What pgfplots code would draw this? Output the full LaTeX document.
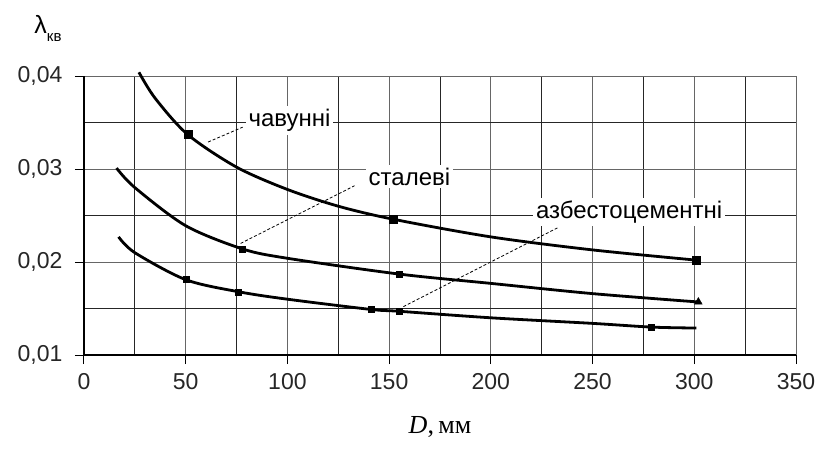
\documentclass[border=0pt]{standalone}
\usepackage{fontspec}
\setmainfont{Liberation Sans}
\newfontfamily\serif{Liberation Serif}
\usepackage{pgfplots}
\pgfplotsset{compat=1.18}

\begin{document}
\begin{tikzpicture}
\begin{axis}[
    scale only axis, width=712pt, height=279pt,
    xmin=0, xmax=350, ymin=0.01, ymax=0.04,
    xtick={0,50,...,350}, ytick={0.01,0.02,0.03,0.04},
    minor xtick={25,75,...,325}, minor ytick={0.015,0.025,0.035},
    scaled y ticks=false,
    grid=both,
    major grid style={black!60, line width=0.8pt},
    minor grid style={black!85, line width=0.8pt},
    axis lines*=left,
    axis line style={black, line width=1.4pt},
    tick align=outside, major tick length=9pt, minor tick length=0pt,
    tick style={black, line width=1pt},
    ticklabel style={font=\fontsize{23}{27}\selectfont, text=black!85},
    /pgf/number format/assume math mode=true,
    yticklabel style={/pgf/number format/fixed, /pgf/number format/fixed zerofill,
        /pgf/number format/precision=2, /pgf/number format/use comma},
    xticklabel style={yshift=-6pt},
    yticklabel style={xshift=-9pt},
    xlabel={{\serif\itshape D}{\serif ,\,мм}},
    xlabel style={font=\fontsize{26}{30}\selectfont, yshift=-20pt},
    clip=false,
]
% чавунні
\addplot[black, line width=2.8pt, smooth] coordinates {
    (27,0.0404) (35,0.0376) (51,0.0337) (75,0.0302) (100,0.0278) (125,0.0260)
    (152,0.0246) (200,0.0227) (250,0.0213) (301,0.0202)};
\addplot[only marks, mark=square*, mark size=4pt, black] coordinates {
    (51,0.0337) (152,0.0246) (301,0.0202)};
% сталеві
\addplot[black, line width=2.8pt, smooth] coordinates {
    (16,0.0301) (25,0.0280) (50,0.0239) (78,0.0214) (100,0.0204) (155,0.0187)
    (200,0.0177) (250,0.0166) (302,0.0157)};
\addplot[only marks, mark=square*, mark size=3pt, black] coordinates {
    (78,0.0214) (155,0.0187)};
\addplot[only marks, mark=triangle*, mark size=4.5pt, black] coordinates {
    (302,0.0157)};
% азбестоцементні
\addplot[black, line width=2.8pt, smooth] coordinates {
    (17,0.0227) (25,0.0210) (50,0.0181) (76,0.0168) (100,0.0160) (141,0.0149)
    (155,0.0147) (200,0.0140) (250,0.0134) (279,0.0130) (301,0.0129)};
\addplot[only marks, mark=square*, mark size=3pt, black] coordinates {
    (50,0.0181) (76,0.0168) (141,0.0149) (155,0.0147) (279,0.0130)};

% подписи
\draw[densely dashed, line width=0.8pt] (axis cs:61,0.0329) -- (axis cs:78,0.0345);
\node[fill=white, inner sep=3pt, font=\fontsize{24}{28}\selectfont] at (axis cs:101,0.0352) {чавунні};
\draw[densely dashed, line width=0.8pt] (axis cs:77,0.0220) -- (axis cs:133,0.0282);
\node[fill=white, inner sep=3pt, font=\fontsize{24}{28}\selectfont] at (axis cs:160,0.0292) {сталеві};
\draw[densely dashed, line width=0.8pt] (axis cs:157,0.0152) -- (axis cs:233,0.0237);
\node[fill=white, inner sep=3pt, font=\fontsize{24}{28}\selectfont] at (axis cs:268,0.0254) {азбестоцементні};
\node[font=\fontsize{25}{29}\selectfont] at ([xshift=-36pt, yshift=48pt]axis cs:0,0.04) {λ\raisebox{-0.6ex}{\fontsize{15}{17}\selectfont кв}};

\coordinate (bl) at (rel axis cs:0,0);
\coordinate (tr) at (rel axis cs:1,1);
\end{axis}
\pgfresetboundingbox
\useasboundingbox ([xshift=-84pt, yshift=-100pt]bl) rectangle ([xshift=25pt, yshift=76pt]tr);
\end{tikzpicture}
\end{document}
